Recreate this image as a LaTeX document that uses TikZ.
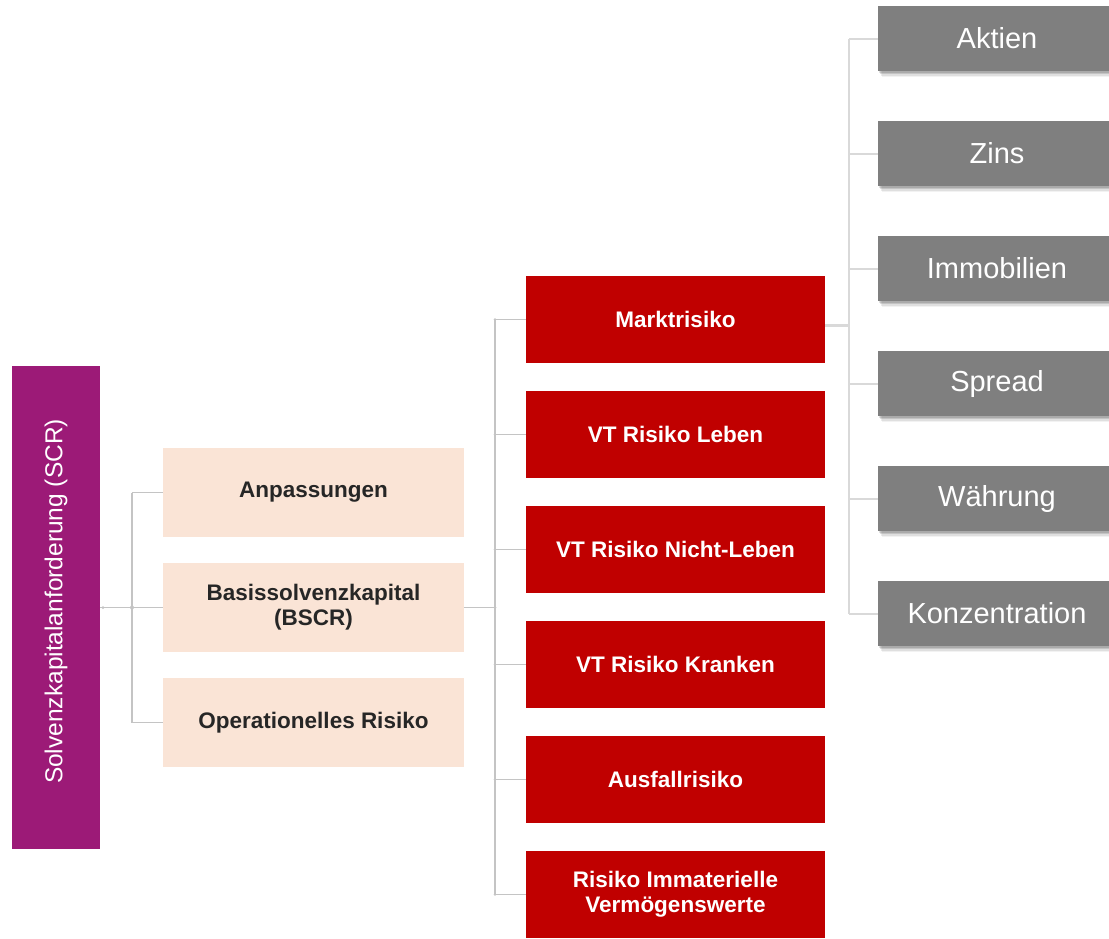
\documentclass[tikz,border=0pt]{standalone}
\usepackage{fontspec}
\setmainfont{Liberation Sans}
\usetikzlibrary{shadows}
\definecolor{scrpurple}{HTML}{9C1A77}
\definecolor{bscrbeige}{HTML}{FAE4D6}
\definecolor{riskred}{HTML}{C00000}
\definecolor{subgrey}{HTML}{7F7F7F}
\definecolor{linegrey}{HTML}{C4C4C4}
\definecolor{trunkgrey}{HTML}{D9D9D9}
\begin{document}
\begin{tikzpicture}[x=1pt,y=-1pt,
  every node/.style={inner sep=0pt, outer sep=0pt, align=center},
  scrbox/.style={fill=scrpurple, text=white, minimum width=483pt, minimum height=88pt,
    rotate=90, font=\fontsize{24.5}{27}\selectfont},
  basebox/.style={fill=bscrbeige, text=black!85, minimum width=301pt, minimum height=89pt,
    font=\bfseries\fontsize{22.5}{25}\selectfont},
  riskbox/.style={fill=riskred, text=white, minimum width=299pt, minimum height=87pt,
    font=\bfseries\fontsize{22.5}{25}\selectfont},
  subbox/.style={fill=subgrey, text=white, minimum width=238pt, minimum height=65pt,
    font=\fontsize{29}{32}\selectfont,
    drop shadow={shadow xshift=1pt, shadow yshift=-1.5pt, fill=black, opacity=0.12},
    drop shadow={shadow xshift=2pt, shadow yshift=-3pt, fill=black, opacity=0.12},
    drop shadow={shadow xshift=3pt, shadow yshift=-4.5pt, fill=black, opacity=0.08},
    drop shadow={shadow xshift=4pt, shadow yshift=-6pt, fill=black, opacity=0.05}},
  conn/.style={draw=linegrey, line width=1.2pt},
  trunk/.style={draw=trunkgrey, line width=2pt},
  joint/.style={fill=linegrey}
]
\useasboundingbox[fill=white] (0,0) rectangle (1109,938);

% top level
\node[scrbox] (scr) at (56,607.5) {\hspace*{12pt}Solvenzkapitalanforderung (SCR)};

% second level
\node[basebox] (anp)  at (313.5,492.5) {Anpassungen};
\node[basebox] (bscr) at (313.5,607.5) {Basissolvenzkapital\\(BSCR)};
\node[basebox] (oprisk) at (313.5,722.5) {Operationelles Risiko};

% risk modules
\node[riskbox] (markt)  at (675.5,319.5) {Marktrisiko};
\node[riskbox] (leben)  at (675.5,434.5) {VT Risiko Leben};
\node[riskbox] (nleben) at (675.5,549.5) {VT Risiko Nicht-Leben};
\node[riskbox] (kranken) at (675.5,664.5) {VT Risiko Kranken};
\node[riskbox] (ausfall) at (675.5,779.5) {Ausfallrisiko};
\node[riskbox] (immat)  at (675.5,894.5) {Risiko Immaterielle\\Vermögenswerte};

% market risk sub-modules
\node[subbox] (aktien) at (997,38.5)  {Aktien};
\node[subbox] (zins)   at (997,153.5) {Zins};
\node[subbox] (immo)   at (997,268.5) {Immobilien};
\node[subbox] (spread) at (997,383.5) {Spread};
\node[subbox] (wahr)   at (997,498.5) {Währung};
\node[subbox] (konz)   at (997,613.5) {Konzentration};

% junction points
\coordinate (j1) at (132,607.5);
\coordinate (j2) at (495,607.5);
\coordinate (j3) at (849,325);

% SCR -> second level
\draw[conn] (scr.south) -- (j1);
\draw[conn] (anp.west -| j1) -- (oprisk.west -| j1);
\foreach \n in {anp,bscr,oprisk} \draw[conn] (\n.west -| j1) -- (\n.west);
\fill[joint] (j1) circle (2pt);
\fill[joint] ([xshift=3pt]scr.south) circle (1.5pt);

% BSCR -> risk modules
\draw[conn] (bscr.east) -- (j2);
\draw[conn] (markt.west -| j2) -- (immat.west -| j2);
\foreach \n in {markt,leben,nleben,kranken,ausfall,immat} {
  \draw[conn] (\n.west -| j2) -- (\n.west);
  \fill[joint] (\n.west -| j2) circle (1.3pt);
}
\fill[joint] (j2) circle (1.5pt);

% market risk -> sub-modules
\draw[trunk, line width=3pt] ([yshift=-5.5pt]markt.east) -- (j3);
\draw[trunk] (aktien.west -| j3) -- (konz.west -| j3);
\foreach \n in {aktien,zins,immo,spread,wahr,konz} \draw[trunk] (\n.west -| j3) -- (\n.west);
\end{tikzpicture}
\end{document}
